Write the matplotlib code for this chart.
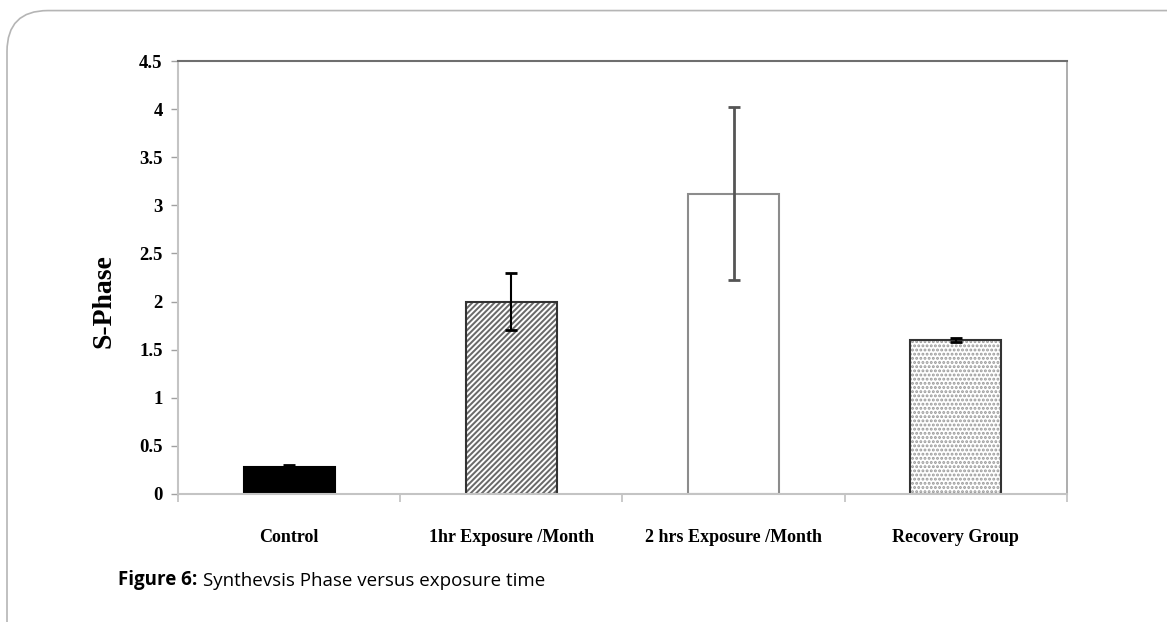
import matplotlib.pyplot as plt
from matplotlib.patches import FancyBboxPatch

# data
groups = ["Control", "1hr Exposure /Month", "2 hrs Exposure /Month", "Recovery Group"]
s_phase = [0.28, 2.0, 3.12, 1.6]
s_err = [0.02, 0.3, 0.9, 0.02]
y_ticks = [0, 0.5, 1, 1.5, 2, 2.5, 3, 3.5, 4, 4.5]
y_tick_labels = ["0", "0.5", "1", "1.5", "2", "2.5", "3", "3.5", "4", "4.5"]

plt.rcParams["hatch.linewidth"] = 1.4

fig = plt.figure(figsize=(11.67, 6.22), dpi=100)

# rounded frame around the figure
frame = FancyBboxPatch((0.006, -0.1), 1.2, 1.083, boxstyle="round,pad=0,rounding_size=0.035",
                       transform=fig.transFigure, facecolor="none", edgecolor="#b5b5b5",
                       linewidth=1.2, mutation_aspect=1167 / 622)
fig.patches.append(frame)

ax = fig.add_axes([0.1525, 0.2058, 0.7618, 0.6961])

x = list(range(len(groups)))
faces = ["black", "#6a6a6a", "white", "white"]
edges = ["black", "#333333", "#8c8c8c", "#333333"]
hatches = [None, "//////", None, "...."]
hatch_cols = ["black", "white", "#8c8c8c", "#9a9a9a"]

for i in x:
    if hatches[i]:
        # hatch layer: in mpl 3.10 the hatch takes the edge colour
        ax.bar(i, s_phase[i], width=0.41, color=faces[i], edgecolor=hatch_cols[i],
               linewidth=0, hatch=hatches[i], zorder=2)
        ax.bar(i, s_phase[i], width=0.41, fill=False, edgecolor=edges[i],
               linewidth=1.5, zorder=2.5)
    else:
        ax.bar(i, s_phase[i], width=0.41, color=faces[i], edgecolor=edges[i],
               linewidth=1.5, zorder=2)
    ax.errorbar(i, s_phase[i], yerr=s_err[i], fmt="none",
                ecolor="#555555" if i == 2 else "black",
                elinewidth=2.0 if i == 2 else 1.5, capsize=4, capthick=2, zorder=3)

ax.set_xlim(-0.5, len(groups) - 0.5)
ax.set_ylim(0, 4.5)

ax.set_yticks(y_ticks)
ax.set_yticklabels(y_tick_labels, fontfamily="Liberation Serif", fontweight="bold", fontsize=13.5)
ax.tick_params(axis="y", length=5, width=1, color="#a0a0a0", pad=6)

ax.set_xticks(x)
ax.set_xticklabels(groups, fontfamily="Liberation Serif", fontweight="bold", fontsize=13)
ax.tick_params(axis="x", which="major", length=0, pad=25)
ax.set_xticks([i - 0.5 for i in range(len(groups) + 1)], minor=True)
ax.tick_params(axis="x", which="minor", length=6, width=1.2, color="#c0c0c0")

ax.set_ylabel("S-Phase", fontfamily="Liberation Serif", fontweight="bold", fontsize=20)
ax.yaxis.set_label_coords(-0.069, 0.445)

ax.spines["left"].set_color("#c4c4c4")
ax.spines["bottom"].set_color("#c4c4c4")
ax.spines["left"].set_linewidth(1.5)
ax.spines["bottom"].set_linewidth(1.5)
ax.spines["top"].set_color("#6e6e6e")
ax.spines["top"].set_linewidth(1.5)
ax.spines["right"].set_color("#a0a0a0")
ax.spines["right"].set_linewidth(1.2)

cap = fig.text(0.101, 0.068, "Figure 6:", fontfamily="Open Sans", fontweight="bold",
               fontsize=13.5, va="center", ha="left")
fig.text(0, 0, "Synthevsis Phase versus exposure time", fontfamily="Open Sans",
         fontsize=13.5, va="bottom", ha="left")
ax.annotate("Synthevsis Phase versus exposure time", xy=(1, 0), xycoords=cap,
            xytext=(4, 0), textcoords="offset points", fontfamily="Open Sans",
            fontsize=13.5, va="bottom", ha="left", annotation_clip=False)
fig.texts[-1].remove()

fig.savefig("out.png", dpi=100)
